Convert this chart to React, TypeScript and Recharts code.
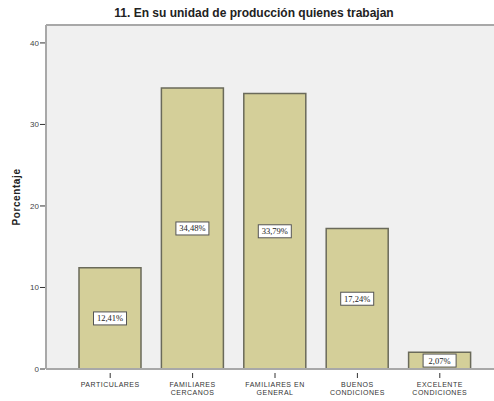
import React from 'react';
import { BarChart, Bar, XAxis, YAxis, CartesianGrid, LabelList, ReferenceLine } from 'recharts';

const categories = ['PARTICULARES', 'FAMILIARES\nCERCANOS', 'FAMILIARES EN\nGENERAL', 'BUENOS\nCONDICIONES', 'EXCELENTE\nCONDICIONES'];
const percentages = [12.41, 34.48, 33.79, 17.24, 2.07];
const yTicks = [0, 10, 20, 30, 40];
const Y_MAX = 42.2;

const data = categories.map((c, i) => ({ name: c, value: percentages[i] }));

const XTick = (props: any) => {
  const { x, y, payload } = props;
  const lines = String(payload.value).split('\n');
  return (
    <g>
      <line x1={x} x2={x} y1={y - 4} y2={y + 1} stroke="#333" strokeWidth={1} />
      <text x={x} y={y + 10} textAnchor="middle" fontSize={7} letterSpacing={0.5} fill="#333" fontFamily="Arial, 'Liberation Sans', sans-serif">
        {lines.map((l: string, i: number) => (
          <tspan key={i} x={x} dy={i === 0 ? 0 : 8}>{l}</tspan>
        ))}
      </text>
    </g>
  );
};

const YTick = (props: any) => {
  const { x, y, payload } = props;
  return (
    <g>
      <line x1={x} x2={x + 5} y1={y} y2={y} stroke="#333" strokeWidth={1} />
      <text x={x - 1} y={y + 3} textAnchor="end" fontSize={8} fill="#444" fontFamily="Arial, 'Liberation Sans', sans-serif">
        {payload.value}
      </text>
    </g>
  );
};

const BarLabel = (props: any) => {
  const { x, y, width, height, value } = props;
  const cx = x + width / 2;
  const cy = y + height / 2;
  const txt = Number(value).toFixed(2).replace('.', ',') + '%';
  const w = 33;
  const h = 13;
  return (
    <g>
      <rect x={cx - w / 2} y={cy - h / 2} width={w} height={h} fill="#ffffff" stroke="#555" strokeWidth={1} />
      <text x={cx} y={cy + 3} textAnchor="middle" fontSize={8.5} fill="#222" fontFamily="'Liberation Serif', 'DejaVu Serif', serif">
        {txt}
      </text>
    </g>
  );
};

export default function App() {
  return (
    <div style={{ position: 'absolute', left: 0, top: 0, width: 494, height: 401, background: '#ffffff' }}>
      <BarChart
        width={494}
        height={401}
        data={data}
        margin={{ top: 25, right: 0, bottom: 0, left: 0 }}
        barCategoryGap={10}
      >
        <CartesianGrid horizontal={false} vertical={false} fill="#f0f0f0" />
        <text x={254} y={17} textAnchor="middle" fontSize={12} fontWeight="bold" fill="#222" fontFamily="Arial, 'Liberation Sans', sans-serif">
          11. En su unidad de producción quienes trabajan
        </text>
        <text
          x={20}
          y={197}
          transform="rotate(-90 20 197)"
          textAnchor="middle"
          fontSize={10}
          fontWeight="bold"
          letterSpacing={0.6}
          fill="#222"
          fontFamily="Arial, 'Liberation Sans', sans-serif"
        >
          Porcentaje
        </text>
        <XAxis
          dataKey="name"
          height={32}
          interval={0}
          padding={{ left: 23, right: 13 }}
          axisLine={{ stroke: '#a8a8a8', strokeWidth: 2 }}
          tickLine={false}
          tick={<XTick />}
        />
        <YAxis
          width={46}
          domain={[0, Y_MAX]}
          ticks={yTicks}
          interval={0}
          allowDataOverflow
          axisLine={{ stroke: '#a8a8a8', strokeWidth: 2 }}
          tickLine={false}
          tickSize={4}
          tick={<YTick />}
        />
        <ReferenceLine y={Y_MAX} stroke="#a8a8a8" strokeWidth={2} ifOverflow="visible" />
        <Bar dataKey="value" fill="#d4cf99" stroke="#6a6a5a" strokeWidth={1.5} isAnimationActive={false}>
          <LabelList dataKey="value" content={<BarLabel />} />
        </Bar>
      </BarChart>
    </div>
  );
}
